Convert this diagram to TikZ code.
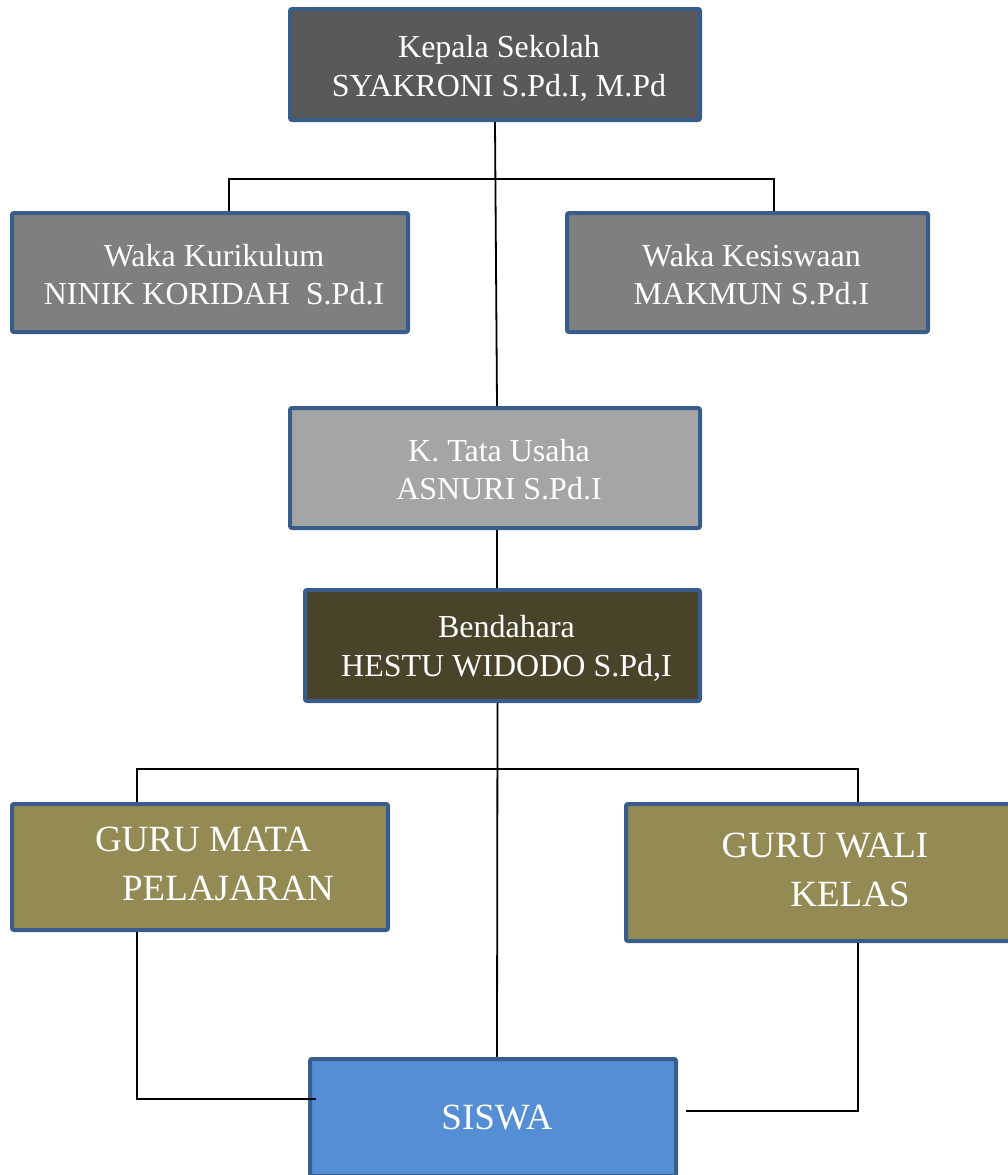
\documentclass[tikz,border=0pt]{standalone}
\usepackage{fontspec}
\setmainfont{Liberation Serif}
\usetikzlibrary{calc,backgrounds}
\definecolor{bordc}{HTML}{385D8A}
\definecolor{kfill}{HTML}{595959}
\definecolor{wfill}{HTML}{7F7F7F}
\definecolor{tfill}{HTML}{A5A5A5}
\definecolor{bfill}{HTML}{494429}
\definecolor{gfill}{HTML}{948A54}
\definecolor{sfill}{HTML}{558ED5}
\begin{document}
\begin{tikzpicture}[x=1pt,y=-1pt,
  box/.style={draw=bordc, line width=4pt, rounded corners=2pt, inner sep=0pt},
  txt/.style={inner sep=0pt, text=white, align=center},
  small/.style={font=\fontsize{32}{38.5}\selectfont},
  big/.style={font=\fontsize{37}{49}\selectfont},
  conn/.style={draw=black, line width=1.8pt}]
\useasboundingbox (0,0) rectangle (1007,1175);
\node[box, fill=kfill, minimum width=410pt, minimum height=111pt] (k) at (495,64.5) {};
\node[box, fill=wfill, minimum width=396pt, minimum height=119pt] (wk) at (210,272.5) {};
\node[box, fill=wfill, minimum width=361pt, minimum height=119pt] (ws) at (747.5,272.5) {};
\node[box, fill=tfill, minimum width=410pt, minimum height=120pt] (tu) at (495,468) {};
\node[box, fill=bfill, minimum width=395pt, minimum height=111pt] (b) at (502.5,645.5) {};
\node[box, fill=gfill, minimum width=376pt, minimum height=126pt] (gm) at (200,867) {};
\node[box, fill=gfill, minimum width=396pt, minimum height=137pt] (gw) at (824,872.5) {};
\node[box, fill=sfill, minimum width=366pt, minimum height=117pt] (s) at (493,1117.5) {};
\node[txt, small] (kt) at ($(k.center)+(4,4)$) {Kepala Sekolah\\SYAKRONI S.Pd.I, M.Pd};
\node[txt, small] (wkt) at ($(wk.center)+(4,2)$) {Waka Kurikulum\\NINIK KORIDAH\ \ S.Pd.I};
\node[txt, small] (wst) at ($(ws.center)+(4,2)$) {Waka Kesiswaan\\MAKMUN S.Pd.I};
\node[txt, small] (tut) at ($(tu.center)+(4,1.5)$) {K. Tata Usaha\\ASNURI S.Pd.I};
\node[txt, small] (bt) at ($(b.center)+(4,3)$) {Bendahara\\HESTU WIDODO S.Pd,I};
\node[txt, big] (gmt) at ($(gm.center)+(0,-3)$) {\hspace*{6pt}GURU MATA\\\hspace*{56pt}PELAJARAN};
\node[txt, big] (gwt) at ($(gw.center)+(1,-2.5)$) {GURU WALI\\\hspace*{50pt}KELAS};
\node[txt, big] (st) at ($(s.center)+(4,0)$) {SISWA};
\begin{scope}[on background layer]
\draw[conn] (k.south) -- ($(tu.north)+(2,0)$);
\draw[conn] ($(wk.north)+(19,0)$) -- ++(0,-32) -| ($(ws.north)+(26.5,0)$);
\draw[conn] ($(tu.south)+(2,0)$) -- ($(b.north)+(-5.5,0)$);
\draw[conn] ($(b.south)+(-5,0)$) -- ($(s.north)+(4,0)$);
\draw[conn] ($(gm.north)+(-63,0)$) -- ++(0,-33) -| ($(gw.north)+(34,0)$);
\draw[conn] ($(gw.south)+(34,0)$) |- ($(s.east)+(8,-6.5)$);
\end{scope}
\draw[conn] ($(gm.south)+(-63,0)$) |- ($(s.west)+(8,-18.5)$);
\end{tikzpicture}
\end{document}
